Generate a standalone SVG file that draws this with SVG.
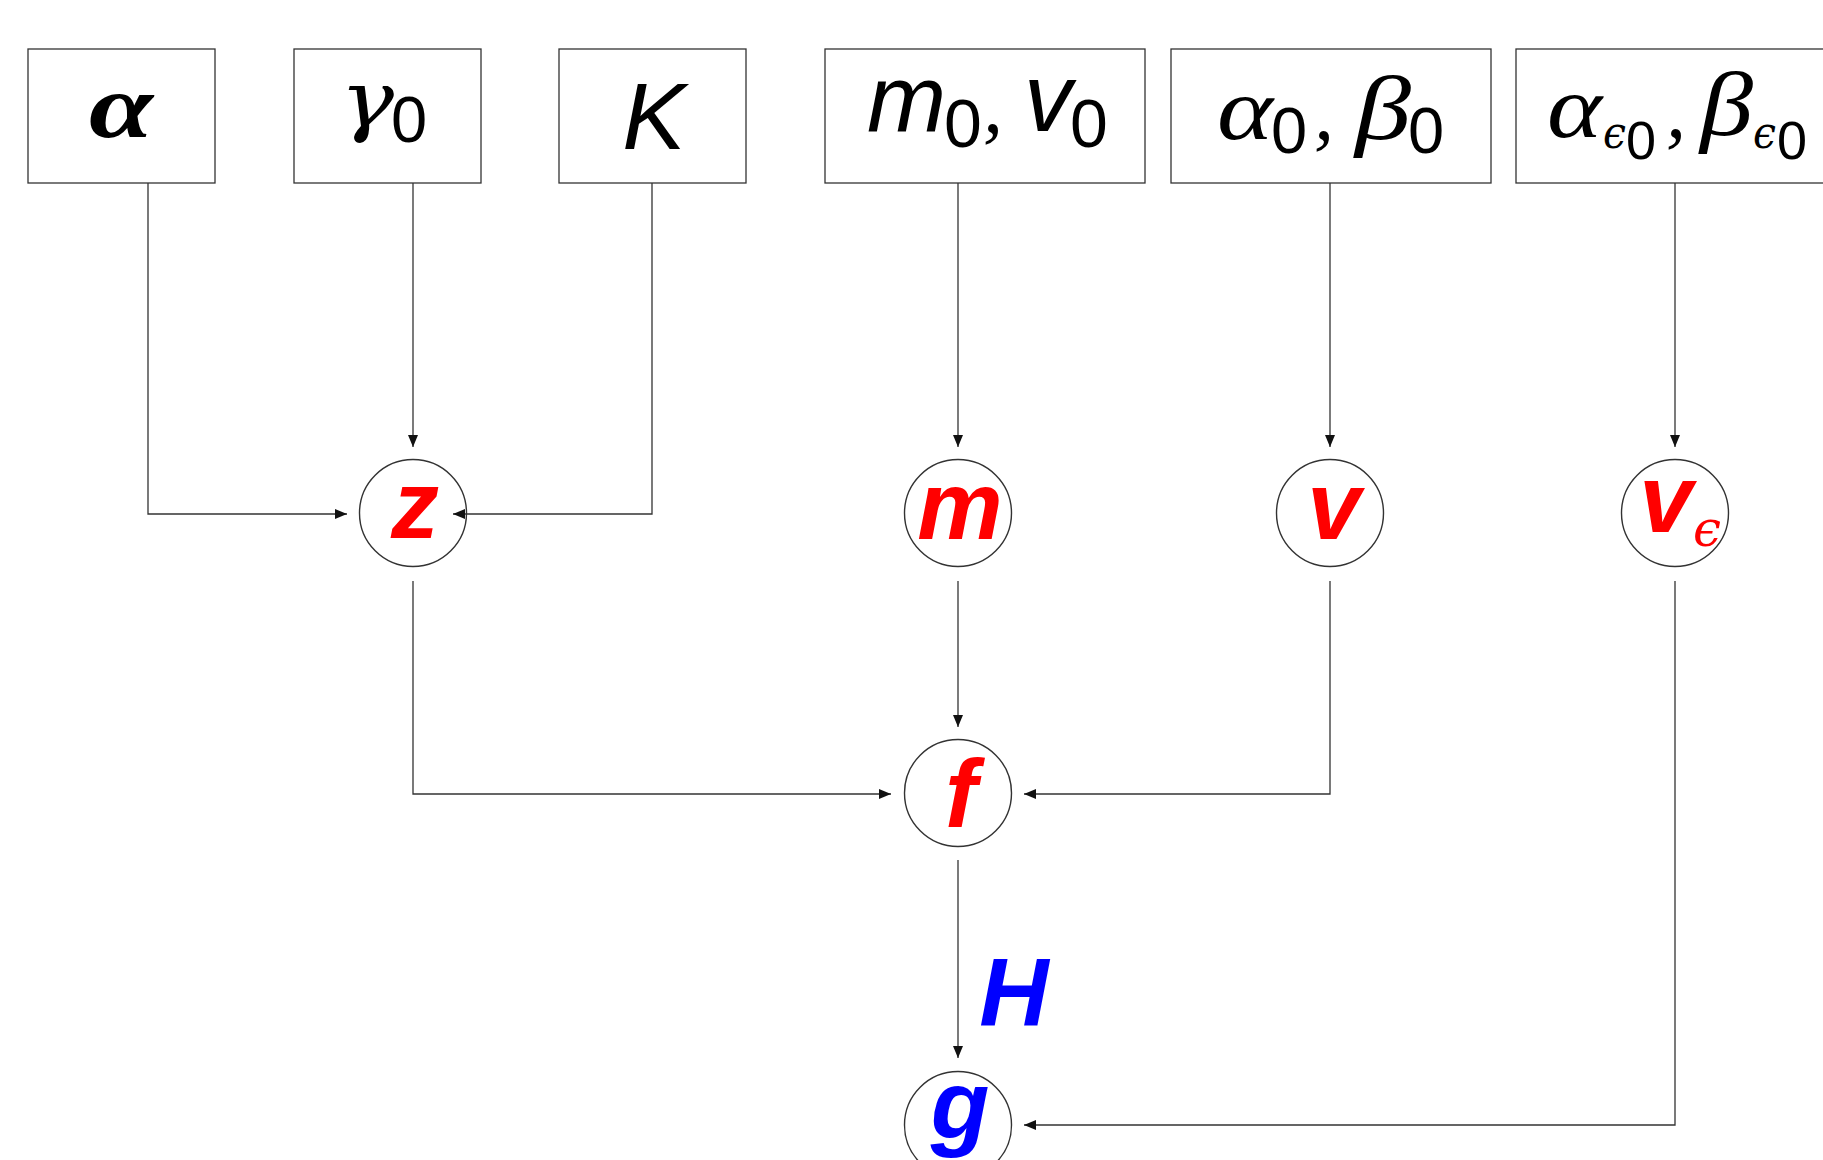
<svg xmlns="http://www.w3.org/2000/svg" width="1823" height="1160" viewBox="0 0 1823 1160">
<style>
.box{fill:#fff;stroke:#333;stroke-width:1.3}
.node{fill:#fff;stroke:#333;stroke-width:1.4}
.edge{fill:none;stroke:#333;stroke-width:1.3}
.sym{font-family:"Liberation Serif",serif;font-style:italic;fill:#000}
.sub{font-family:"Liberation Sans",sans-serif;fill:#000}
.var{font-family:"Liberation Sans",sans-serif;font-style:italic;fill:#000}
.nl{font-family:"Liberation Sans",sans-serif;font-style:italic;font-weight:bold;font-size:96px;fill:#f00;text-anchor:middle}
.eps{font-family:"DejaVu Serif",serif;font-style:italic}
</style>
<defs>
<marker id="arr" markerUnits="userSpaceOnUse" markerWidth="12" markerHeight="10" viewBox="0 0 12 10" refX="12" refY="5" orient="auto">
<path d="M0,0 L12,5 L0,10 Z" fill="#111"/>
</marker>
</defs>
<rect width="1823" height="1160" fill="#fff"/>

<g id="box-alpha">
<rect class="box" x="28" y="49" width="187" height="134"/>
<text class="sym" x="89" y="137" font-size="92" font-weight="bold" textLength="64" lengthAdjust="spacingAndGlyphs">α</text>
</g>
<g id="box-gamma0">
<rect class="box" x="294" y="49" width="187" height="134"/>
<text class="eps" x="340" y="127" font-size="78" textLength="54" lengthAdjust="spacingAndGlyphs">γ</text>
<text class="sub" x="391" y="142" font-size="65">0</text>
</g>
<g id="box-K">
<rect class="box" x="559" y="49" width="187" height="134"/>
<text class="var" x="654" y="149" font-size="95" text-anchor="middle">K</text>
</g>
<g id="box-m0v0">
<rect class="box" x="825" y="49" width="320" height="134"/>
<text class="var" x="867" y="132" font-size="95">m</text>
<text class="sub" x="944" y="147" font-size="68">0</text>
<text class="sym" x="983" y="132" font-size="80" font-style="normal">,</text>
<text class="var" x="1024" y="131" font-size="96">v</text>
<text class="sub" x="1070" y="147" font-size="68">0</text>
</g>
<g id="box-alpha0beta0">
<rect class="box" x="1171" y="49" width="320" height="134"/>
<text class="sym" x="1217" y="139" font-size="89" textLength="56" lengthAdjust="spacingAndGlyphs">α</text>
<text class="sub" x="1271" y="153" font-size="65">0</text>
<text class="sym" x="1314" y="139" font-size="80" font-style="normal">,</text>
<text class="sym" x="1355" y="139" font-size="92" textLength="56" lengthAdjust="spacingAndGlyphs">β</text>
<text class="sub" x="1408" y="153" font-size="65">0</text>
</g>
<g id="box-alphaeps-betaeps">
<rect class="box" x="1516" y="49" width="330" height="134"/>
<text class="sym" x="1547" y="137" font-size="89" textLength="55" lengthAdjust="spacingAndGlyphs">α</text>
<text class="eps" x="1603" y="148" font-size="44" textLength="23" lengthAdjust="spacingAndGlyphs">ϵ</text>
<text class="sub" x="1626" y="159" font-size="54">0</text>
<text class="sym" x="1666" y="137" font-size="80" font-style="normal">,</text>
<text class="sym" x="1700" y="135" font-size="90" textLength="53" lengthAdjust="spacingAndGlyphs">β</text>
<text class="eps" x="1753" y="148" font-size="44" textLength="23" lengthAdjust="spacingAndGlyphs">ϵ</text>
<text class="sub" x="1777" y="159" font-size="54">0</text>
</g>

<g id="node-z">
<circle class="node" cx="413" cy="513" r="53.5"/>
<text class="nl" x="415" y="538">z</text>
</g>
<g id="node-m">
<circle class="node" cx="958" cy="513" r="53.5"/>
<text class="nl" x="960" y="539">m</text>
</g>
<g id="node-v">
<circle class="node" cx="1330" cy="513" r="53.5"/>
<text class="nl" x="1334" y="539">v</text>
</g>
<g id="node-veps">
<circle class="node" cx="1675" cy="513" r="53.5"/>
<text class="nl" x="1666" y="532">v</text>
<text class="eps" x="1693" y="546" font-size="50" fill="#f00">ϵ</text>
</g>
<g id="node-f">
<circle class="node" cx="958" cy="793" r="53.5"/>
<text class="nl" x="961" y="827">f</text>
</g>
<g id="node-g">
<circle class="node" cx="958" cy="1125" r="53.5"/>
<text class="nl" x="960" y="1138" style="fill:#00f">g</text>
</g>
<g id="label-H">
<text class="nl" x="1014" y="1026" style="fill:#00f">H</text>
</g>

<g id="connectors">
<path class="edge" d="M148,183 V514 H347" marker-end="url(#arr)"/>
<path class="edge" d="M413,183 V447" marker-end="url(#arr)"/>
<path class="edge" d="M652,183 V514 H453" marker-end="url(#arr)"/>
<path class="edge" d="M958,183 V447" marker-end="url(#arr)"/>
<path class="edge" d="M1330,183 V447" marker-end="url(#arr)"/>
<path class="edge" d="M1675,183 V447" marker-end="url(#arr)"/>
<path class="edge" d="M413,581 V794 H891" marker-end="url(#arr)"/>
<path class="edge" d="M958,581 V727" marker-end="url(#arr)"/>
<path class="edge" d="M1330,581 V794 H1024" marker-end="url(#arr)"/>
<path class="edge" d="M958,860 V1058" marker-end="url(#arr)"/>
<path class="edge" d="M1675,581 V1125 H1024" marker-end="url(#arr)"/>
</g>
</svg>
